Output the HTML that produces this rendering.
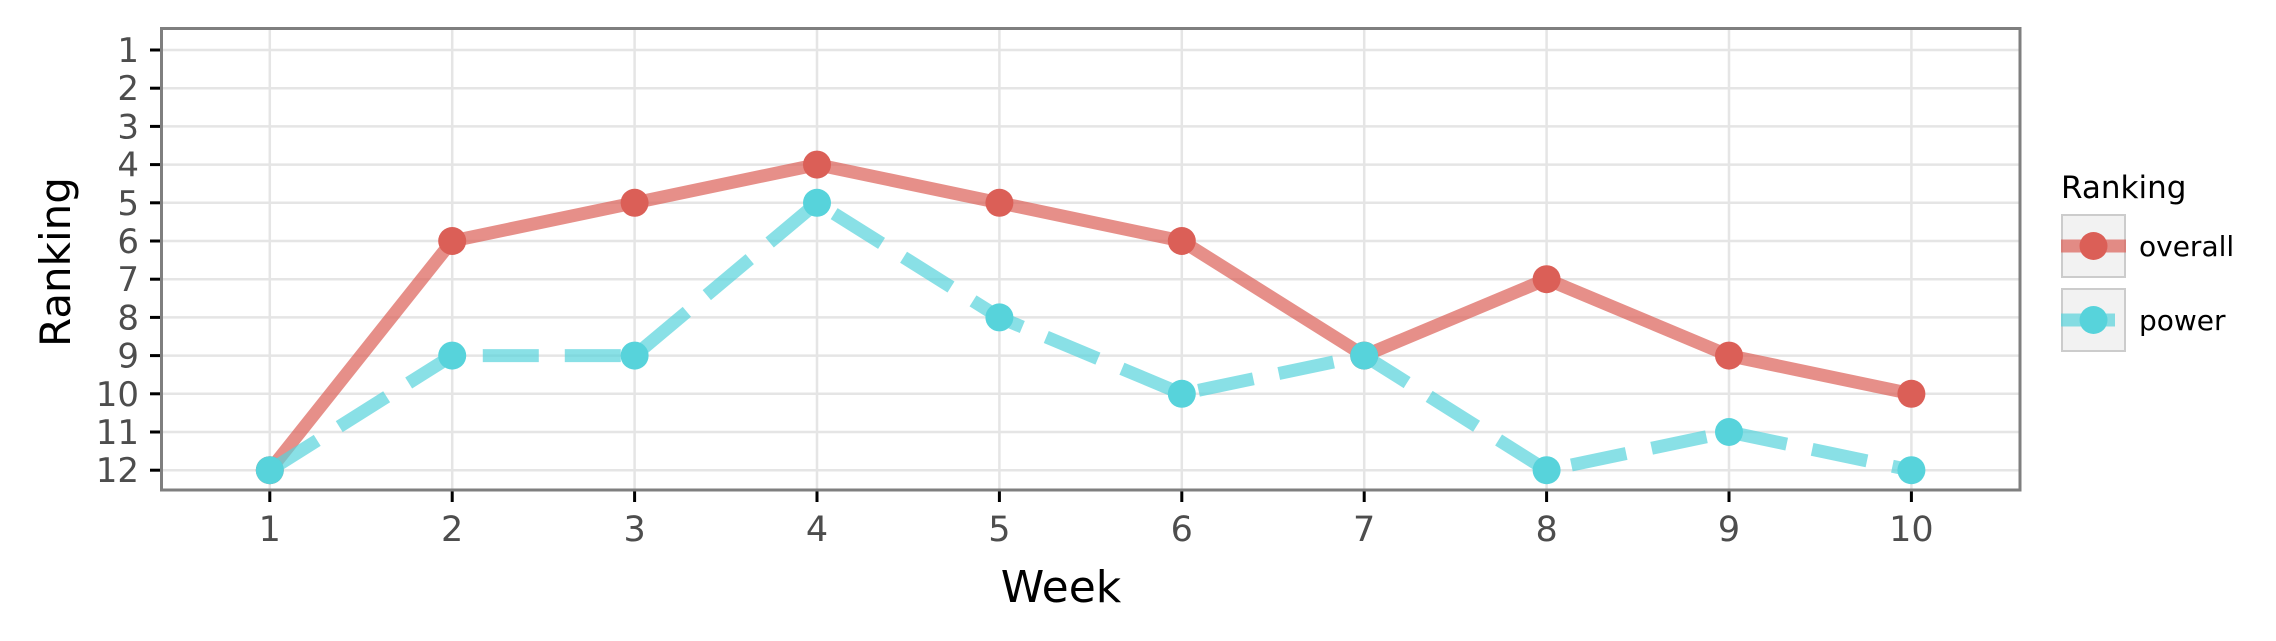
<!DOCTYPE html>
<html><head><meta charset="utf-8"><style>
html,body{margin:0;padding:0;background:#fff;}
svg{display:block;font-family:"DejaVu Sans","Liberation Sans",sans-serif;}
</style></head><body>
<svg id="chart" width="2276" height="641" viewBox="0 0 2276 641" xmlns="http://www.w3.org/2000/svg">
<g id="grid"></g>
<g id="series"></g>
<g id="axes"></g>
<rect x="161.5" y="28.5" width="1858.5" height="461.5" fill="none" stroke="#7f7f7f" stroke-width="3"/>
<text x="1061" y="602" font-size="44" text-anchor="middle" fill="#000">Week</text>
<text x="0" y="0" font-size="42" text-anchor="middle" fill="#000" transform="translate(70,262) rotate(-90)">Ranking</text>
<g>
<text x="2061" y="198" font-size="31" fill="#000">Ranking</text>
<rect x="2062" y="215" width="63" height="62" fill="#f2f2f2" stroke="#cccccc" stroke-width="2"/>
<line x1="2061" y1="246" x2="2126" y2="246" stroke="#db5f57" stroke-opacity="0.7" stroke-width="13"/>
<circle cx="2093.5" cy="246" r="14" fill="#db5f57"/>
<text x="2139" y="256" font-size="28" fill="#000">overall</text>
<rect x="2062" y="289" width="63" height="62" fill="#f2f2f2" stroke="#cccccc" stroke-width="2"/>
<line x1="2061" y1="320" x2="2115" y2="320" stroke="#57d3db" stroke-opacity="0.7" stroke-width="13"/>
<circle cx="2093.5" cy="320" r="14" fill="#57d3db"/>
<text x="2139" y="330" font-size="28" fill="#000">power</text>
</g>
</svg>
<script>
const weeks = [1,2,3,4,5,6,7,8,9,10];
const overall = [12,6,5,4,5,6,9,7,9,10];
const power = [12,9,9,5,8,10,9,12,11,12];
const yTicks = [1,2,3,4,5,6,7,8,9,10,11,12];
const xTicks = [1,2,3,4,5,6,7,8,9,10];

const NS = "http://www.w3.org/2000/svg";
const L=163, R=2019, T=30, B=489;
function xs(v){ return 269.8 + (v-1)*182.4; }
function ys(v){ return 50 + (v-1)*38.2; }
function mk(tag, attrs, parent){
  const e = document.createElementNS(NS, tag);
  for (const k in attrs) e.setAttribute(k, attrs[k]);
  parent.appendChild(e); return e;
}
const grid = document.getElementById('grid');
const axes = document.getElementById('axes');
const series = document.getElementById('series');

yTicks.forEach(v=>{
  const g = mk('line',{x1:L,x2:R,y1:ys(v),y2:ys(v),stroke:'#e5e5e5','stroke-width':2.5},grid);
  
  
  const t = mk('line',{x1:150,x2:161,y1:ys(v),y2:ys(v),stroke:'#000','stroke-width':3},axes);
  
  
  const l = mk('text',{x:139,y:ys(v)+12,'font-size':34,'text-anchor':'end',fill:'#4d4d4d'},axes);
  l.textContent = v;
  
  
});
xTicks.forEach(v=>{
  const g = mk('line',{x1:xs(v),x2:xs(v),y1:T,y2:B,stroke:'#e5e5e5','stroke-width':2.5},grid);
  
  
  const t = mk('line',{x1:xs(v),x2:xs(v),y1:491,y2:502,stroke:'#000','stroke-width':3},axes);
  
  
  const l = mk('text',{x:xs(v),y:541,'font-size':35,'text-anchor':'middle',fill:'#4d4d4d'},axes);
  l.textContent = v;
  
  
});

function drawSeries(vals, color, dash, name){
  const pts = weeks.map((w,i)=>xs(w)+','+ys(vals[i])).join(' ');
  const attrs = {points:pts,fill:'none',stroke:color,'stroke-opacity':0.7,'stroke-width':13};
  if (dash) attrs['stroke-dasharray'] = dash;
  const pl = mk('polyline',attrs,series);
  
  
  weeks.forEach((w,i)=>{
    const c = mk('circle',{cx:xs(w),cy:ys(vals[i]),r:14,fill:color},series);
    
    
  });
}
drawSeries(overall,'#db5f57',null,'overall');
drawSeries(power,'#57d3db','56 26','power');
</script>
</body></html>
